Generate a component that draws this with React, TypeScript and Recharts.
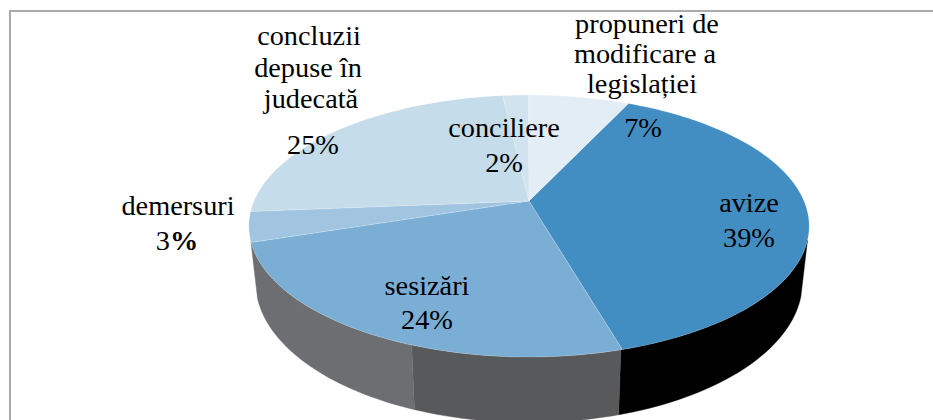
import React from "react";
import { PieChart, Pie } from "recharts";

const sliceNames = ["avize", "sesizări", "demersuri", "concluzii depuse în judecată", "conciliere", "propuneri de modificare a legislației"];
const sliceValues = [38.6, 24.5, 3.7, 24.5, 1.8, 7.0];
const sliceColors = ["#428dc1", "#7aaed4", "#a1c5e0", "#c5dcea", "#d2e3f0", "#e2edf6"];
const percentLabels = ["39", "24", "3", "25", "2", "7"];

const wallNames = ["față dreapta", "față mijloc", "față stânga"];
const wallValues = [15.9, 10.1, 14.4];
const wallColors = ["#000000", "#58595b", "#6d6e71"];

const labelLines: string[][] = [
  ["avize"],
  ["sesizări"],
  ["demersuri"],
  ["concluzii", "depuse în", "judecată"],
  ["conciliere"],
  ["propuneri de", "modificare a", "legislației"],
];
// text anchor x + baseline y for each label's lines, then for its percentage
const labelSpots = [
  { xs: [749], ys: [212], px: 749, py: 247 },
  { xs: [427], ys: [295], px: 427, py: 329 },
  { xs: [178], ys: [215], px: 177, py: 250 },
  { xs: [309, 308, 311], ys: [45, 77, 108], px: 313, py: 154 },
  { xs: [504], ys: [137], px: 504, py: 172 },
  { xs: [647, 645, 642], ys: [33, 63, 93], px: 643, py: 137 },
];

const CX = 529;
const CY = 201;
const RX = 275;
const FLAT = 0.459;
const PERSPECTIVE = 0.191;

const rad = (d: number) => (d * Math.PI) / 180;

function topRim(cx: number, cy: number, r: number, deg: number): [number, number] {
  const c = Math.cos(rad(deg));
  const s = Math.sin(rad(deg));
  const w = 1 + PERSPECTIVE * s;
  return [cx + (r * c) / w, cy - (r * FLAT * s) / w];
}

function bottomRim(cx: number, cy: number, r: number, deg: number): [number, number] {
  const [x, y] = topRim(cx, cy, r, deg);
  return [cx + 0.976 * (x - cx), cy + 53.85 + 1.075 * (y - cy)];
}

function sweep(a: number, b: number): number[] {
  const n = Math.max(2, Math.ceil(Math.abs(b - a) / 1.5));
  const out: number[] = [];
  for (let i = 0; i <= n; i++) out.push(a + ((b - a) * i) / n);
  return out;
}

const toPath = (pts: [number, number][]) =>
  "M" + pts.map((p) => `${p[0].toFixed(2)},${p[1].toFixed(2)}`).join("L") + "Z";

function TopSlice(props: any) {
  const { cx, cy, outerRadius, startAngle, endAngle, fill } = props;
  const pts: [number, number][] = [[cx, cy]];
  sweep(startAngle, endAngle).forEach((d) => pts.push(topRim(cx, cy, outerRadius, d)));
  return <path d={toPath(pts)} fill={fill} stroke="#ffffff" strokeOpacity={0.3} strokeWidth={0.6} />;
}

function WallSlice(props: any) {
  const { cx, cy, outerRadius, startAngle, endAngle, fill } = props;
  const angles = sweep(startAngle, endAngle);
  const pts: [number, number][] = angles.map((d) => topRim(cx, cy, outerRadius, d));
  [...angles].reverse().forEach((d) => pts.push(bottomRim(cx, cy, outerRadius, d)));
  return <path d={toPath(pts)} fill={fill} stroke={fill} strokeWidth={0.4} />;
}

function SliceLabel(props: any) {
  const i = props.index as number;
  const spot = labelSpots[i];
  const common = { textAnchor: "middle" as const, fontFamily: "'Liberation Serif'", fontSize: 28.3, fill: "#000" };
  return (
    <g>
      {labelLines[i].map((line, k) => (
        <text key={k} x={spot.xs[k]} y={spot.ys[k]} {...common}>
          {line}
        </text>
      ))}
      <text x={spot.px} y={spot.py} {...common}>
        {percentLabels[i]}
        <tspan fontWeight={i === 2 ? "bold" : "normal"}>%</tspan>
      </text>
    </g>
  );
}

const sliceData = sliceNames.map((name, i) => ({ name, value: sliceValues[i], fill: sliceColors[i] }));
const wallData = wallNames.map((name, i) => ({ name, value: wallValues[i], fill: wallColors[i] }));

export default function App() {
  return (
    <div style={{ position: "fixed", left: 0, top: 0, width: 933, height: 420, background: "#fff", overflow: "hidden" }}>
      <div
        style={{
          position: "absolute",
          left: 9,
          top: 10,
          width: 930,
          height: 420,
          borderTop: "2px solid #ababab",
          borderLeft: "2px solid #ababab",
        }}
      />
      <div style={{ position: "absolute", left: 0, top: 0 }}>
        <PieChart width={933} height={420} margin={{ top: 0, right: 0, bottom: 0, left: 0 }}>
          <Pie
            data={wallData}
            dataKey="value"
            cx={CX}
            cy={CY}
            innerRadius={0}
            outerRadius={RX}
            startAngle={-17}
            endAngle={-162.3}
            paddingAngle={0}
            stroke="none"
            shape={WallSlice}
            isAnimationActive={false}
          />
          <Pie
            data={sliceData}
            dataKey="value"
            cx={CX}
            cy={CY}
            innerRadius={0}
            outerRadius={RX}
            startAngle={64.9}
            endAngle={-295.1}
            paddingAngle={0}
            stroke="none"
            shape={TopSlice}
            label={SliceLabel}
            labelLine={false}
            isAnimationActive={false}
          />
        </PieChart>
      </div>
    </div>
  );
}
